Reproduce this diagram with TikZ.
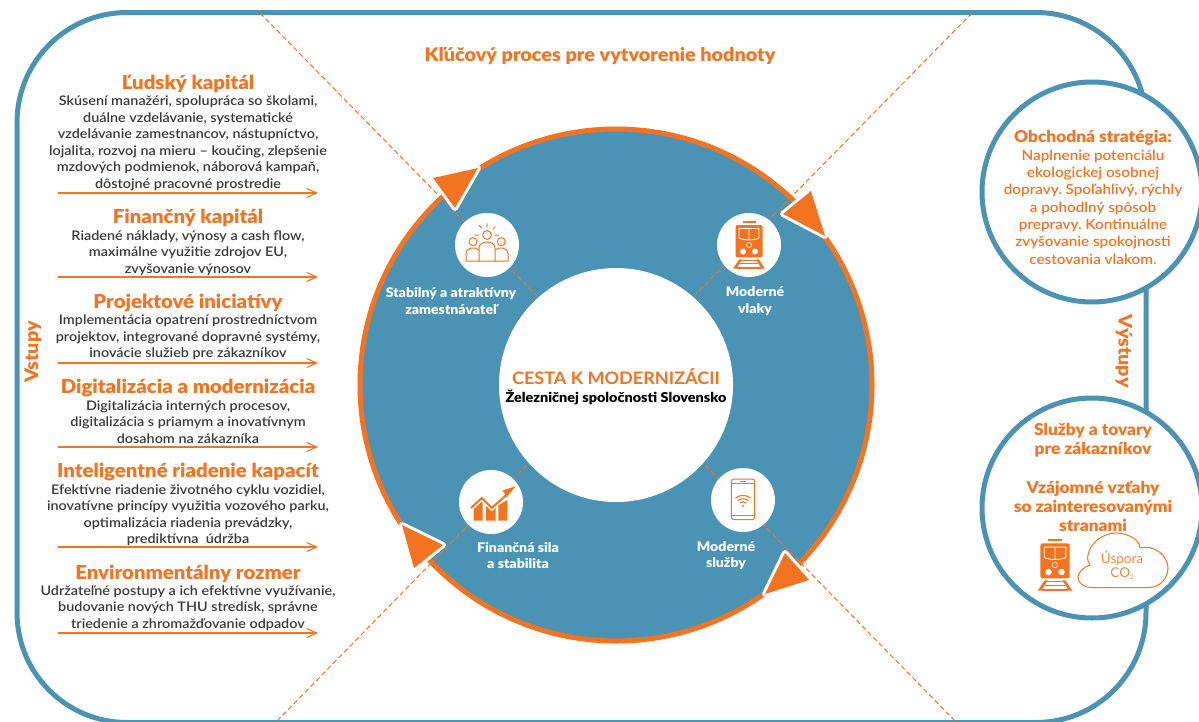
\documentclass[tikz,border=0pt]{standalone}
\usepackage{fontspec}
\setmainfont{Lato}
\newfontfamily\hvy[FakeStretch=1.06]{Lato Black}
\newfontfamily\med[FakeStretch=1.09]{Lato Semibold}
\newfontfamily\bld[FakeStretch=1.05]{Lato Bold}
\usetikzlibrary{arrows.meta}
\definecolor{org}{HTML}{F47321}
\definecolor{blu}{HTML}{4B93B5}
\definecolor{ink}{HTML}{3A3A3A}
\tikzset{
  txt/.style={inner sep=0pt,align=center},
  headl/.style={txt,text=org,font=\hvy\fontsize{19.2}{22}\selectfont},
  bodyt/.style={txt,text=ink,font=\med\fontsize{13.2}{16.5}\selectfont},
  inarrow/.style={draw=org,line width=1.1pt,-{Straight Barb[length=10pt,width=9pt,line width=1.1pt]}},
  spoke/.style={draw=org,line width=1pt,dash pattern=on 5pt off 3pt},
  tri/.style={fill=org,draw=white,line width=6pt,line join=round},
  tritop/.style={fill=org},
  icon/.style={circle,fill=white,minimum size=64pt,inner sep=0pt},
  ringlab/.style={txt,text=white,font=\hvy\fontsize{13.3}{16.5}\selectfont},
  ol/.style={draw=org,line width=1pt},
  framed/.style={draw=blu,line width=5pt},
}
\newcommand{\sect}[6]{%
  \node[headl] (h#1) at (188,#2) {#3};
  \node[bodyt] (b#1) at (188,#4) {#5};
  \coordinate (as#1) at (58,#6);
  \coordinate (ae#1) at (318,#6);
  \draw[inarrow] (as#1) -- (ae#1);
}
\newcommand{\trainicon}[3]{%
 \begin{scope}[shift={(#1,#2)},scale=#3]
  \fill[org,rounded corners=2pt] (-13.5,-20) rectangle (13.5,12.3);
  \fill[org] (-6.5,-24.5) rectangle (6.5,-22.5);
  \draw[white,line width=0.9pt,line join=round] (-10,-16.5) -- (10,-16.5) -- (10,-7) .. controls (5,-4.5) and (-5,-4.5) .. (-10,-7) -- cycle (0,-16.5) -- (0,-5.3);
  \fill[white] (-6,6.5) circle (3) (6,6.5) circle (3);
  \draw[white,line width=0.6pt] (0,0) circle (2.6);
  \fill[org] (-9.7,14.3) -- (-7,14.3) -- (-12.5,23.7) -- (-16,23.7) -- cycle;
  \fill[org] (9.7,14.3) -- (7,14.3) -- (12.5,23.7) -- (16,23.7) -- cycle;
  \fill[org] (-8,15) rectangle (8,16);
  \fill[org] (-9,18.2) rectangle (9,19.2);
  \fill[org] (-12,22.2) rectangle (12,23.7);
 \end{scope}}
\begin{document}
\frenchspacing
\begin{tikzpicture}[x=1pt,y=-1pt]
\path[use as bounding box,clip] (0,0) rectangle (1199,721);
\fill[white] (0,0) rectangle (1199,721);
% outer frame
\draw[framed,rounded corners=110pt] (17,12.5) rectangle (1146,722.5);
% ring
\coordinate (cen) at (616,385);
\fill[blu] (cen) circle (257);
\draw[org,line width=5pt] (cen) circle (256);
% dashed spokes
\coordinate (d1a) at (260,13);  \coordinate (d1b) at (537,296);
\coordinate (d2a) at (972,13);  \coordinate (d2b) at (693,297);
\coordinate (d3a) at (277,721); \coordinate (d3b) at (528,464);
\coordinate (d4a) at (955,721); \coordinate (d4b) at (704,464);
\draw[spoke] (d1a) -- (d1b);
\draw[spoke] (d2a) -- (d2b);
\draw[spoke] (d3a) -- (d3b);
\draw[spoke] (d4a) -- (d4b);
% arrowheads on ring
\draw[tri] (478,168) -- (433,178) -- (455,208) -- cycle;
\draw[tri] (811,191) -- (783,214) -- (825,236) -- cycle;
\draw[tri] (402,525) -- (443,545) -- (414,568) -- cycle;
\draw[tri] (785,553) -- (809,580) -- (765,594) -- cycle;
\fill[tritop] (478,168) -- (433,178) -- (455,208) -- cycle;
\fill[tritop] (811,191) -- (783,214) -- (825,236) -- cycle;
\fill[tritop] (402,525) -- (443,545) -- (414,568) -- cycle;
\fill[tritop] (785,553) -- (809,580) -- (765,594) -- cycle;
% hub
\node[circle,fill=white,minimum size=234pt,inner sep=0pt] (hub) at (616,385) {};
\node[txt,text=org,font=\bld\fontsize{17.2}{22}\selectfont] (hubt) at (616,377) {CESTA K MODERNIZÁCII};
\node[txt,text=black,font=\hvy\fontsize{13.6}{15}\selectfont] (hubs) at (616,397) {Železničnej spoločnosti Slovensko};
% icon discs
\node[icon] (i1) at (487,245) {};
\node[icon] (i2) at (749,245) {};
\node[icon] (i3) at (491,502) {};
\node[icon] (i4) at (743,500) {};
% people
\begin{scope}[shift={(487,245)}]
 \draw[ol,line join=round] (0,-10) circle (4.4) (-14,-3.3) circle (4) (14.3,-3.3) circle (4);
 \draw[ol,line join=round] (-8,16) -- (-8,3) .. controls (-8,-5) and (8,-5) .. (8,3) -- (8,16) -- cycle;
 \draw[ol,line join=round] (-8,16) -- (-21,16) -- (-21,9) .. controls (-21,2) and (-12,1.5) .. (-8,5);
 \draw[ol,line join=round] (8,16) -- (21,16) -- (21,9) .. controls (21,2) and (12,1.5) .. (8,5);
 \draw[ol] (0,-21.7) -- (0,-18) (-8,-19.7) -- (-5.3,-17) (8.3,-18.3) -- (5.7,-15.7) (-12.3,-10) -- (-8.3,-10) (8,-10) -- (12,-10);
\end{scope}
% train
\trainicon{749}{245}{1}
% chart
\begin{scope}[shift={(491,502)}]
 \fill[org] (-17.5,18.7) -- (-17.5,7.3) -- (-9.3,0) -- (-8.3,0.8) -- (-8.3,18.7) -- cycle;
 \fill[org] (-5,18.7) -- (-5,3.8) -- (0.7,9.5) -- (4.7,6) -- (4.7,18.7) -- cycle;
 \fill[org] (7.3,18.7) -- (7.3,3.3) -- (16.3,-2) -- (16.3,18.7) -- cycle;
 \draw[org,line width=2pt] (-20,6) -- (-9.3,-4) -- (0.7,6) -- (15.7,-7.3);
 \fill[org] (11.7,-11.7) -- (15.7,-5) -- (24.7,-15.7) -- cycle;
\end{scope}
% phone
\begin{scope}[shift={(743,500)}]
 \draw[ol,rounded corners=2.5pt] (-11.7,-21) rectangle (11.7,19.7);
 \draw[ol] (-11.7,-16.7) -- (11.7,-16.7) (-11.7,15.7) -- (11.7,15.7) (-3,-18.8) -- (3,-18.8);
 \fill[org] (0,6) circle (1.2);
 \draw[org,line width=1.1pt] (-3.3,3) .. controls (-1.2,1.4) and (1.2,1.4) .. (3.3,3);
 \draw[org,line width=1.1pt] (-5.4,0.6) .. controls (-2,-1.8) and (2,-1.8) .. (5.4,0.6);
 \draw[org,line width=1.1pt] (-7.5,-1.8) .. controls (-3,-5.6) and (3,-5.6) .. (7.5,-1.8);
\end{scope}
% ring labels
\node[ringlab] (l1) at (451,301) {Stabilný a atraktívny\\zamestnávateľ};
\node[ringlab] (l2) at (755,301) {Moderné\\vlaky};
\node[ringlab] (l3) at (518,555.5) {Finančná sila\\a stabilita};
\node[ringlab] (l4) at (726,555.5) {Moderné\\služby};
% title
\node[txt,text=org,font=\hvy\fontsize{18.7}{20}\selectfont] (title) at (600,56) {Kľúčový proces pre vytvorenie hodnoty};
% left column
\sect{1}{84}{Ľudský kapitál}{143.5}{Skúsení manažéri, spolupráca so školami,\\duálne vzdelávanie, systematické\\vzdelávanie zamestnancov, nástupníctvo,\\lojalita, rozvoj na mieru – koučing, zlepšenie\\mzdových podmienok, náborová kampaň,\\dôstojné pracovné prostredie}{193}
\sect{2}{218}{Finančný kapitál}{253}{Riadené náklady, výnosy a cash flow,\\maximálne využitie zdrojov EU,\\zvyšovanie výnosov}{277}
\sect{3}{303}{Projektové iniciatívy}{337.5}{Implementácia opatrení prostredníctvom\\projektov, integrované dopravné systémy,\\inovácie služieb pre zákazníkov}{363}
\sect{4}{388}{Digitalizácia a modernizácia}{422}{Digitalizácia interných procesov,\\digitalizácia s priamym a inovatívnym\\dosahom na zákazníka}{447}
\sect{5}{472}{Inteligentné riadenie kapacít}{515}{Efektívne riadenie životného cyklu vozidiel,\\inovatívne princípy využitia vozového parku,\\optimalizácia riadenia prevádzky,\\prediktívna\ \ údržba}{547}
\sect{6}{574}{Environmentálny rozmer}{608}{Udržateľné postupy a ich efektívne využívanie,\\budovanie nových THU stredísk, správne\\triedenie a zhromažďovanie odpadov}{633}
\node[txt,text=org,rotate=90,font=\hvy\fontsize{18.6}{20}\selectfont] (vst) at (33,352) {Vstupy};
\node[txt,text=org,rotate=-90,font=\hvy\fontsize{18.6}{20}\selectfont] (vys) at (1124,351) {Výstupy};
% right circles
\node[circle,draw=blu,fill=white,line width=5pt,minimum size=220pt,inner sep=0pt] (c1) at (1092,192) {};
\node[circle,draw=blu,fill=white,line width=5pt,minimum size=220pt,inner sep=0pt] (c2) at (1092,508) {};
\node[txt,text=org,font=\hvy\fontsize{16.3}{17}\selectfont] (c1h) at (1093,138) {Obchodná stratégia:};
\node[txt,text=org,font=\med\fontsize{14}{17.3}\selectfont] (c1t) at (1093,207) {Naplnenie potenciálu\\ekologickej osobnej\\dopravy. Spoľahlivý, rýchly\\a pohodlný spôsob\\prepravy. Kontinuálne\\zvyšovanie spokojnosti\\cestovania vlakom.};
\node[txt,text=org,font=\hvy\fontsize{16.3}{19}\selectfont] (c2a) at (1093,440.5) {Služby a tovary\\pre zákazníkov};
\node[txt,text=org,font=\hvy\fontsize{16.3}{19}\selectfont] (c2b) at (1093,506.5) {Vzájomné vzťahy\\so zainteresovanými\\stranami};
\trainicon{1055}{565}{1.08}
\draw[ol,line join=round] (1091,587.5) -- (1149,587.5) .. controls (1160,587.5) and (1168,578) .. (1168,568) .. controls (1168,556) and (1154,544) .. (1140,548) .. controls (1140,540) and (1128,533) .. (1116,533) .. controls (1103,533) and (1090,543) .. (1088,555) .. controls (1087,559) and (1088,562) .. (1090,565) .. controls (1083,567) and (1078,573) .. (1078,577) .. controls (1078,583) and (1084,587.5) .. (1091,587.5) -- cycle;
\node[txt,text=org!85,font=\fontsize{13.5}{16}\selectfont] (cl1) at (1122,558) {Úspora};
\node[txt,text=org!85,font=\fontsize{13.5}{16}\selectfont] (cl2) at (1122,574) {CO\raisebox{-2pt}{\fontsize{6}{6}\selectfont 2}};
\end{tikzpicture}
\end{document}
